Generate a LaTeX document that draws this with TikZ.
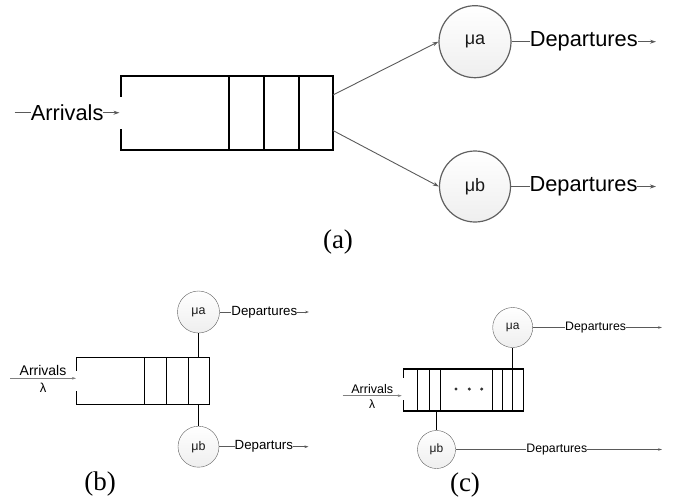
\documentclass[tikz,border=0pt]{standalone}
\usepackage{fontspec}
\setmainfont{Liberation Serif}
\newfontfamily\arialfont{Liberation Sans}
\usetikzlibrary{arrows.meta}
\definecolor{flowgray}{HTML}{5A5A5A}
\definecolor{rimgray}{HTML}{606060}

\tikzset{
  server/.style={circle, draw=rimgray, top color=white, bottom color=gray!13,
    inner sep=0pt, text=black!90, font=\arialfont},
  flow/.style={draw=flowgray, line width=0.9pt},
  tipa/.style={-{Stealth[length=6pt,width=4pt]}},
  tipb/.style={-{Stealth[length=4pt,width=2.6pt]}},
  tag/.style={fill=white, inner sep=0pt, outer sep=0pt, text=black, font=\arialfont},
  queuewall/.style={draw=black, line cap=rect},
  caption/.style={font=\fontsize{27}{30}\selectfont}
}

\begin{document}
\begin{tikzpicture}[x=1pt,y=-1pt]
\useasboundingbox (0,0) rectangle (678,501);

%%%%%%%%%%%%%%%% (a) %%%%%%%%%%%%%%%%
% queue with open entrance
\draw[queuewall, line width=2pt]
  (120.7,95.5) -- (120.7,76) -- (333,76) -- (333,150) -- (120.7,150) -- (120.7,129.5);
\foreach \x in {228.7,264,299.3} \draw[queuewall, line width=2pt] (\x,76) -- (\x,150);

\node[server, line width=1.2pt, minimum size=72pt, font=\arialfont\fontsize{18}{20}\selectfont] (mua) at (475,41.7) {μa};
\node[server, line width=1.2pt, minimum size=71pt, font=\arialfont\fontsize{18}{20}\selectfont] (mub) at (475,186.5) {μb};

\coordinate (arrA) at (14.7,112.7);
\coordinate (qaIn) at (119.5,112.7);
\coordinate (qaOutA) at (333,95);
\coordinate (qaOutB) at (333,130.5);
\coordinate (depAa) at (656,41.7);
\coordinate (depAb) at (656,186.5);

\draw[flow, tipa] (arrA) -- node[tag, font=\arialfont\fontsize{21.8}{24}\selectfont] {Arrivals} (qaIn);
\draw[flow, tipa] (qaOutA) -- (mua.west);
\draw[flow, tipa] (qaOutB) -- (mub.west);
\draw[flow, tipa] (mua.east) -- node[tag, font=\arialfont\fontsize{21.8}{24}\selectfont] {Departures} (depAa);
\draw[flow, tipa] (mub.east) -- node[tag, font=\arialfont\fontsize{21.8}{24}\selectfont] {Departures} (depAb);

\node[caption] (capa) at (338,242) {(a)};

%%%%%%%%%%%%%%%% (b) %%%%%%%%%%%%%%%%
\draw[queuewall, line width=1.1pt]
  (76.7,370) -- (76.7,357.7) -- (209.3,357.7) -- (209.3,404.3) -- (76.7,404.3) -- (76.7,391.7);
\foreach \x in {144,166,188.3} \draw[queuewall, line width=0.9pt] (\x,357.7) -- (\x,404.3);

\node[server, minimum size=42pt, font=\arialfont\fontsize{12.5}{14}\selectfont] (mubA) at (198.5,312) {μa};
\node[server, minimum size=41pt, font=\arialfont\fontsize{12.5}{14}\selectfont] (mubB) at (198.5,446.7) {μb};

\coordinate (qbTop) at (198.5,357.7);
\coordinate (qbBot) at (198.5,404.3);
\draw[line width=0.9pt] (mubA.south) -- (qbTop);
\draw[line width=0.9pt] (qbBot) -- (mubB.north);

\coordinate (arrB) at (10,378.3);
\coordinate (qbIn) at (76,378.3);
\coordinate (depBa) at (309,312);
\coordinate (depBb) at (308.5,446.7);
\draw[flow, draw=gray, line width=0.6pt, tipb] (arrB) --
  node[above=2pt, inner sep=0pt, font=\arialfont\fontsize{14}{16}\selectfont] {Arrivals}
  node[below=4pt, inner sep=0pt, font=\arialfont\fontsize{13}{15}\selectfont] {λ} (qbIn);
\draw[flow, line width=0.7pt, tipb] (mubA.east) -- node[tag, font=\arialfont\fontsize{13.3}{15}\selectfont] {Departures} (depBa);
\draw[flow, line width=0.7pt, tipb] (mubB.east) -- node[tag, font=\arialfont\fontsize{13.3}{15}\selectfont] {Departurs} (depBb);

\node[caption] (capb) at (100,484) {(b)};

%%%%%%%%%%%%%%%% (c) %%%%%%%%%%%%%%%%
\draw[queuewall, line width=1.1pt]
  (403.3,377) -- (403.3,369) -- (523.3,369) -- (523.3,411) -- (403.3,411) -- (403.3,401);
\foreach \x in {417.3,429.3,440,492.3,502.3,512.7} \draw[queuewall, line width=0.9pt] (\x,369) -- (\x,411);
\foreach \x in {456,469.3,481.7} \fill[black!80] (\x,389) circle (1.7pt);

\node[server, minimum size=40pt, font=\arialfont\fontsize{12}{14}\selectfont] (mucA) at (512.7,327.5) {μa};
\node[server, minimum size=38pt, font=\arialfont\fontsize{12}{14}\selectfont] (mucB) at (436.5,449.5) {μb};

\coordinate (qcTop) at (512.7,369);
\coordinate (qcBot) at (436.5,411);
\draw[line width=0.9pt] (mucA.south) -- (qcTop);
\draw[line width=0.9pt] (qcBot) -- (mucB.north);

\coordinate (arrC) at (342.7,395.7);
\coordinate (qcIn) at (401.7,395.7);
\coordinate (depCa) at (662,327.5);
\coordinate (depCb) at (662,449.5);
\draw[flow, draw=gray, line width=0.6pt, tipb] (arrC) --
  node[above=2pt, inner sep=0pt, font=\arialfont\fontsize{12.5}{14}\selectfont] {Arrivals}
  node[below=3.5pt, inner sep=0pt, font=\arialfont\fontsize{12}{14}\selectfont] {λ} (qcIn);
\draw[flow, line width=0.7pt, tipb] (mucA.east) -- node[pos=0.486, tag, font=\arialfont\fontsize{12.3}{14}\selectfont] {Departures} (depCa);
\draw[flow, line width=0.7pt, tipb] (mucB.east) -- node[pos=0.49, tag, font=\arialfont\fontsize{12.3}{14}\selectfont] {Departures} (depCb);

\node[caption] (capc) at (465,485) {(c)};
\end{tikzpicture}
\end{document}
